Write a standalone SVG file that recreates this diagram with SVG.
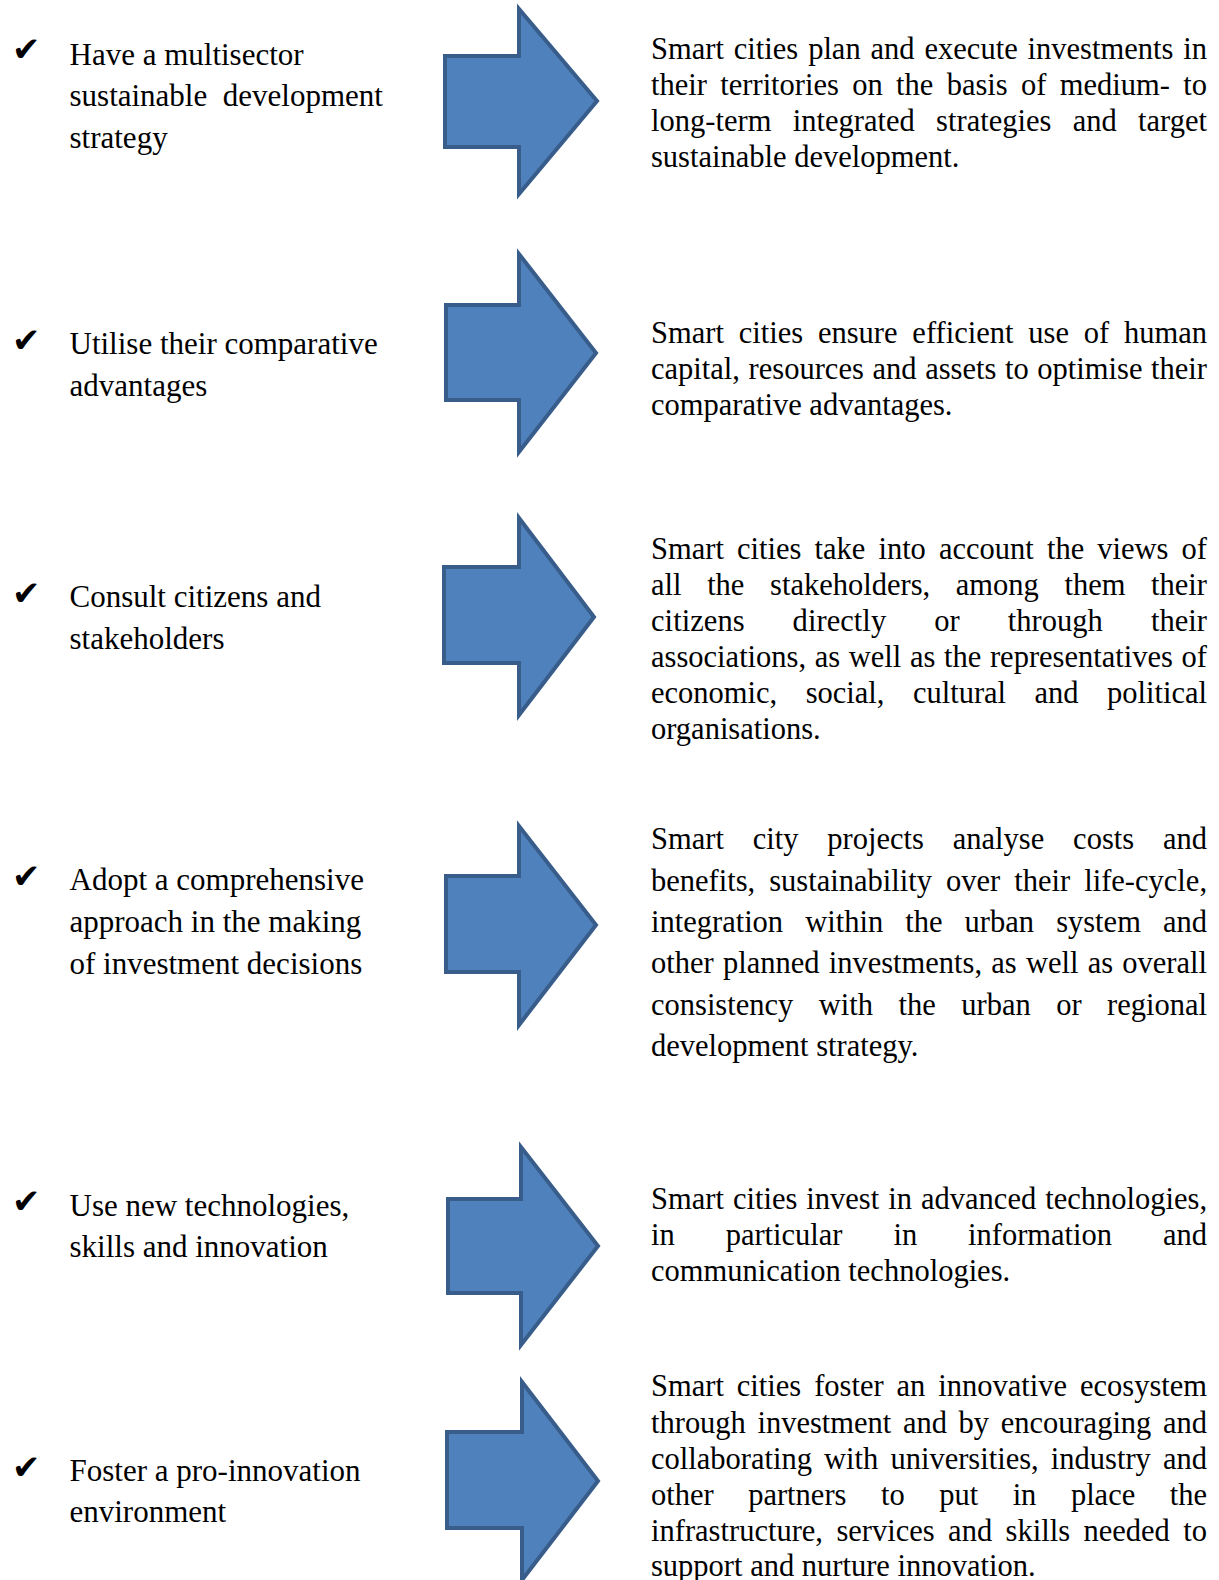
<svg xmlns="http://www.w3.org/2000/svg" width="1219" height="1580" viewBox="0 0 1219 1580">
<style>
text{font-family:"Liberation Serif","Times New Roman",serif;fill:#000}
.l{font-size:31px}
.r{font-size:30.5px}
.ck{font-family:"DejaVu Sans",sans-serif;font-size:34px}
.arrow{fill:#4F81BD;stroke:#385D8A;stroke-width:4;stroke-linejoin:miter}
</style>
<rect width="1219" height="1580" fill="#fff"/>
<g id="connectors">
<polygon class="arrow" points="445,56 519,56 519,9 597,101 519,194 519,147 445,147"/>
<polygon class="arrow" points="446,305 519,305 519,254 596,353 519,452 519,400 446,400"/>
<polygon class="arrow" points="444,567 519,567 519,518 594,617 519,715 519,663 444,663"/>
<polygon class="arrow" points="446,876 519,876 519,826 596,925 519,1025 519,972 446,972"/>
<polygon class="arrow" points="448,1199 521,1199 521,1147 598,1246 521,1345 521,1293 448,1293"/>
<polygon class="arrow" points="447,1432 522,1432 522,1382 598,1481 522,1580 522,1528 447,1528"/>
</g>
<g id="item1">
<text class="ck" x="12" y="61">✔</text>
<text class="l" x="69.5" y="65">Have a multisector</text>
<text class="l" x="69.5" y="106" xml:space="preserve">sustainable  development</text>
<text class="l" x="69.5" y="148">strategy</text>
</g>
<g id="desc1">
<text class="r" x="651" y="58.5" textLength="556" lengthAdjust="spacing" word-spacing="2.3">Smart cities plan and execute investments in</text>
<text class="r" x="651" y="94.5" textLength="556" lengthAdjust="spacing" word-spacing="5.7">their territories on the basis of medium- to</text>
<text class="r" x="651" y="130.5" textLength="556" lengthAdjust="spacing" word-spacing="13.6">long-term integrated strategies and target</text>
<text class="r" x="651" y="166.5">sustainable development.</text>
</g>
<g id="item2">
<text class="ck" x="12" y="352">✔</text>
<text class="l" x="69.5" y="354">Utilise their comparative</text>
<text class="l" x="69.5" y="396">advantages</text>
</g>
<g id="desc2">
<text class="r" x="651" y="342.5" textLength="556" lengthAdjust="spacing" word-spacing="7.1">Smart cities ensure efficient use of human</text>
<text class="r" x="651" y="378.5" textLength="556" lengthAdjust="spacing" word-spacing="1">capital, resources and assets to optimise their</text>
<text class="r" x="651" y="414.5">comparative advantages.</text>
</g>
<g id="item3">
<text class="ck" x="12" y="605">✔</text>
<text class="l" x="69.5" y="606.5">Consult citizens and</text>
<text class="l" x="69.5" y="648.5">stakeholders</text>
</g>
<g id="desc3">
<text class="r" x="651" y="559" textLength="556" lengthAdjust="spacing" word-spacing="5.5">Smart cities take into account the views of</text>
<text class="r" x="651" y="595" textLength="556" lengthAdjust="spacing" word-spacing="18">all the stakeholders, among them their</text>
<text class="r" x="651" y="631" textLength="556" lengthAdjust="spacing" word-spacing="40.3">citizens directly or through their</text>
<text class="r" x="651" y="667" textLength="556" lengthAdjust="spacing" word-spacing="1">associations, as well as the representatives of</text>
<text class="r" x="651" y="703" textLength="556" lengthAdjust="spacing" word-spacing="20.8">economic, social, cultural and political</text>
<text class="r" x="651" y="738.5">organisations.</text>
</g>
<g id="item4">
<text class="ck" x="12" y="888">✔</text>
<text class="l" x="69.5" y="890">Adopt a comprehensive</text>
<text class="l" x="69.5" y="932">approach in the making</text>
<text class="l" x="69.5" y="973.5">of investment decisions</text>
</g>
<g id="desc4">
<text class="r" x="651" y="849" textLength="556" lengthAdjust="spacing" word-spacing="21.2">Smart city projects analyse costs and</text>
<text class="r" x="651" y="890.5" textLength="556" lengthAdjust="spacing" word-spacing="6.4">benefits, sustainability over their life-cycle,</text>
<text class="r" x="651" y="932" textLength="556" lengthAdjust="spacing" word-spacing="14.5">integration within the urban system and</text>
<text class="r" x="651" y="973" textLength="556" lengthAdjust="spacing" word-spacing="1.6">other planned investments, as well as overall</text>
<text class="r" x="651" y="1014.5" textLength="556" lengthAdjust="spacing" word-spacing="17.9">consistency with the urban or regional</text>
<text class="r" x="651" y="1055.5">development strategy.</text>
</g>
<g id="item5">
<text class="ck" x="12" y="1212.5">✔</text>
<text class="l" x="69.5" y="1215.5">Use new technologies,</text>
<text class="l" x="69.5" y="1256.5">skills and innovation</text>
</g>
<g id="desc5">
<text class="r" x="651" y="1209" textLength="556" lengthAdjust="spacing" word-spacing="1.4">Smart cities invest in advanced technologies,</text>
<text class="r" x="651" y="1245" textLength="556" lengthAdjust="spacing" word-spacing="43.3">in particular in information and</text>
<text class="r" x="651" y="1281">communication technologies.</text>
</g>
<g id="item6">
<text class="ck" x="12" y="1478.5">✔</text>
<text class="l" x="69.5" y="1480.5">Foster a pro-innovation</text>
<text class="l" x="69.5" y="1521.5">environment</text>
</g>
<g id="desc6">
<text class="r" x="651" y="1396" textLength="556" lengthAdjust="spacing" word-spacing="5.3">Smart cities foster an innovative ecosystem</text>
<text class="r" x="651" y="1432.5" textLength="556" lengthAdjust="spacing" word-spacing="4">through investment and by encouraging and</text>
<text class="r" x="651" y="1468.5" textLength="556" lengthAdjust="spacing" word-spacing="4.5">collaborating with universities, industry and</text>
<text class="r" x="651" y="1505" textLength="556" lengthAdjust="spacing" word-spacing="26.9">other partners to put in place the</text>
<text class="r" x="651" y="1540.5" textLength="556" lengthAdjust="spacing" word-spacing="5.8">infrastructure, services and skills needed to</text>
<text class="r" x="651" y="1575.5">support and nurture innovation.</text>
</g>
</svg>
